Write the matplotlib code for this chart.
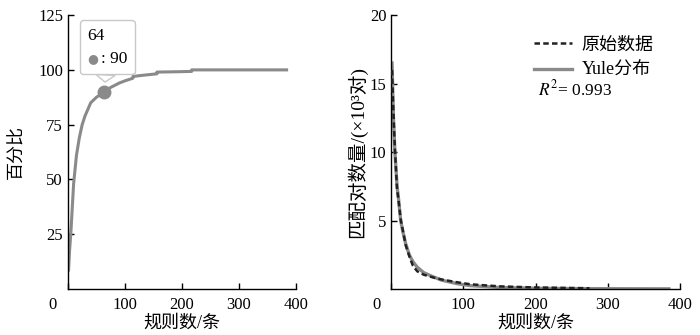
import matplotlib
matplotlib.use("Agg")
import matplotlib.pyplot as plt
from matplotlib.offsetbox import AnnotationBbox, HPacker, TextArea, VPacker
from matplotlib.transforms import ScaledTranslation

plt.rcParams["font.family"] = ["Liberation Serif", "Noto Sans CJK SC"]
plt.rcParams["mathtext.fontset"] = "stix"
plt.rcParams["font.size"] = 11

# cumulative share of matched pairs vs. number of rules
cum_rules = [1, 2, 3, 5, 7, 10, 15, 20, 25, 30, 40, 50, 64, 75, 90, 100, 114,
             114, 130, 156, 156, 180, 200, 217, 217, 250, 300, 350, 386]
cum_pct = [8, 13, 18, 25, 34, 48, 61, 69, 75, 79, 85, 87.5, 90, 92, 94, 95, 96.2,
           97, 97.5, 98.2, 99, 99.1, 99.2, 99.3, 100, 100, 100, 100, 100]
mark_rule, mark_pct = 64, 90

# matched pair counts (x10^3) per rule count: raw data and Yule fit
raw_rules = [1, 3, 5, 8, 10, 13, 16, 20, 25, 30, 36, 45, 58, 70, 91, 110, 150,
             200, 250, 275]
raw_pairs = [16.0, 12.8, 10.2, 7.3, 6.5, 5.1, 4.3, 3.2, 2.4, 1.7, 1.3, 1.05,
             0.85, 0.7, 0.5, 0.35, 0.2, 0.12, 0.08, 0.06]
yule_rules = [1, 3, 5, 8, 10, 13, 16, 20, 25, 30, 36, 45, 58, 70, 91, 110, 150,
              200, 250, 300, 385]
yule_pairs = [16.5, 12.5, 10.0, 7.5, 6.6, 5.0, 4.2, 3.3, 2.5, 2.0, 1.6, 1.2,
              0.9, 0.65, 0.4, 0.25, 0.12, 0.06, 0.04, 0.03, 0.02]
r2 = 0.993

fig = plt.figure(figsize=(7, 3.35), dpi=100)
ax1 = fig.add_axes([0.097, 0.137, 0.326, 0.818])
ax2 = fig.add_axes([0.559, 0.137, 0.412, 0.818])

cjk = dict(fontsize=13, fontweight="medium")


def style(ax):
    for side in ("top", "right"):
        ax.spines[side].set_visible(False)
    for side in ("left", "bottom"):
        ax.spines[side].set_linewidth(1.0)
    ax.tick_params(direction="in", length=4, width=1, labelsize=12)
    ax.tick_params(axis="x", pad=6)
    ax.set_xlim(0, 400)
    ax.set_xticks([0, 100, 200, 300, 400])
    # the zero label sits left of the y axis
    lbl = ax.get_xticklabels()[0]
    lbl.set_transform(lbl.get_transform() + ScaledTranslation(-0.15, 0, fig.dpi_scale_trans))
    ax.set_xlabel("规则数/条", labelpad=1, **cjk)


gray = "#8a8a8a"

ax1.plot(cum_rules, cum_pct, color=gray, lw=2.2, solid_capstyle="butt")
ax1.plot([mark_rule], [mark_pct], "o", color=gray, ms=9)
ax1.set_ylim(0, 125)
ax1.set_yticks([25, 50, 75, 100, 125])
ax1.set_ylabel("百分比", labelpad=9, **cjk)
style(ax1)

tip = VPacker(children=[
    TextArea(str(mark_rule), textprops=dict(fontsize=12.5)),
    HPacker(children=[
        TextArea("●", textprops=dict(fontsize=9, color=gray, family="DejaVu Sans")),
        TextArea(": %d" % mark_pct, textprops=dict(fontsize=12.5)),
    ], sep=2, align="center"),
], sep=5, align="left")
ab = AnnotationBbox(tip, (mark_rule, mark_pct), xybox=(2, 32), xycoords="data",
                    boxcoords="offset points", box_alignment=(0.5, 0.5),
                    pad=0.7, frameon=True,
                    bboxprops=dict(boxstyle="round,pad=0.5,rounding_size=0.25",
                                   fc="white", ec="#c8c8c8", lw=1),
                    arrowprops=dict(arrowstyle="wedge,tail_width=0.9", fc="white",
                                    ec="#c8c8c8", shrinkA=0, shrinkB=7))
ax1.add_artist(ab)

ax2.plot(raw_rules, raw_pairs, color="#222222", lw=1.8, ls=(0, (2.2, 1.3)),
         label="原始数据", zorder=3)
ax2.plot(yule_rules, yule_pairs, color=gray, lw=2.4, label="Yule分布", zorder=2)
ax2.set_ylim(0, 20)
ax2.set_yticks([5, 10, 15, 20])
ax2.set_ylabel("匹配对数量/(×10³对)", labelpad=2, fontsize=14, fontweight="medium")
style(ax2)
ax2.legend(loc="upper left", bbox_to_anchor=(0.44, 0.98), frameon=False,
           prop=dict(size=13, weight="medium"), handlelength=2.1,
           handletextpad=0.5, labelspacing=0.45)
ax2.text(0.51, 0.73, "$R^{2}$= %.3f" % r2, transform=ax2.transAxes, fontsize=12.5,
         va="center")

fig.savefig("out.png", dpi=100)
